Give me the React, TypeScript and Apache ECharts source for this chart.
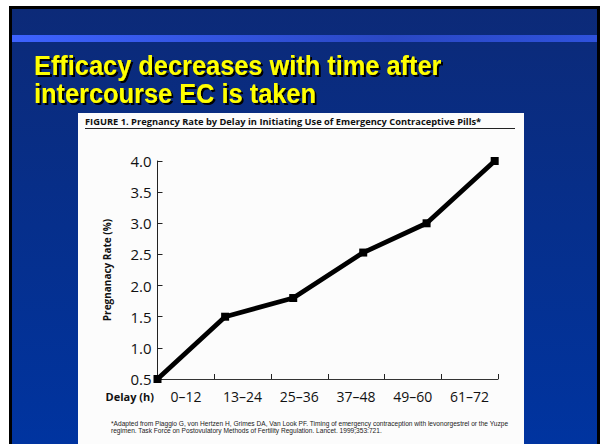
import React, { useEffect, useRef } from "react";
import * as echarts from "echarts";

const titleLines = ["Efficacy decreases with time after", "intercourse EC is taken"];
const figureCaption = "FIGURE 1. Pregnancy Rate by Delay in Initiating Use of Emergency Contraceptive Pills*";
const categories = ["0–12", "13–24", "25–36", "37–48", "49–60", "61–72"];
const delayHours = [0, 14.3, 28.7, 43.5, 56.9, 71.3];
const pregnancyRate = [0.5, 1.5, 1.8, 2.53, 3.0, 4.0];
const yAxisName = "Pregnanacy Rate (%)";
const xAxisName = "Delay (h)";
const footnoteLines = [
  "*Adapted from Piaggio G, von Hertzen H, Grimes DA, Van Look PF. Timing of emergency contraception with levonorgestrel or the Yuzpe",
  "regimen. Task Force on Postovulatory Methods of Fertility Regulation. Lancet. 1999;353:721.",
];

const chartFont = '"Open Sans", "Noto Sans", sans-serif';

export default function App() {
  const ref = useRef<HTMLDivElement>(null);
  useEffect(() => {
    if (!ref.current) return;
    const chart = echarts.init(ref.current, undefined, { renderer: "svg" });
    chart.setOption({
      animation: false,
      backgroundColor: "#ffffff",
      grid: { left: 157.5, right: 102, top: 161, bottom: 65, containLabel: false },
      xAxis: [
        {
          type: "category",
          data: categories,
          boundaryGap: true,
          axisLine: { show: true, lineStyle: { color: "#333", width: 1 } },
          axisTick: { show: true, inside: true, length: 5, lineStyle: { color: "#222" } },
          axisLabel: { fontSize: 14, color: "#111", margin: 10, fontFamily: chartFont },
          splitLine: { show: false },
        },
        { type: "value", min: 0, max: 72, show: false },
      ],
      yAxis: {
        type: "value",
        min: 0.5,
        max: 4,
        interval: 0.5,
        name: yAxisName,
        nameLocation: "middle",
        nameGap: 46,
        nameTextStyle: { fontSize: 10, fontWeight: "bold", color: "#111", fontFamily: chartFont },
        axisLine: { show: true, lineStyle: { color: "#222", width: 1 } },
        axisTick: { show: true, inside: true, length: 5, lineStyle: { color: "#222" } },
        axisLabel: {
          fontSize: 15,
          color: "#111",
          margin: 6,
          fontFamily: chartFont,
          formatter: (v: number) => v.toFixed(1),
        },
        splitLine: { show: false },
      },
      series: [
        {
          type: "line",
          xAxisIndex: 1,
          data: delayHours.map((h, i) => [h, pregnancyRate[i]]),
          symbol: "rect",
          symbolSize: 8,
          showAllSymbol: true,
          clip: false,
          lineStyle: { width: 4.8, color: "#000" },
          itemStyle: { color: "#000" },
          z: 5,
        },
      ],
      graphic: [
        { type: "rect", z: -30, shape: { x: 0, y: 0, width: 600, height: 444 }, style: { fill: "#ffffff" } },
        { type: "rect", z: -29, shape: { x: 9, y: 6, width: 591, height: 438 }, style: { fill: "#000000" } },
        {
          type: "rect",
          z: -28,
          shape: { x: 12, y: 9, width: 585, height: 435 },
          style: {
            fill: new echarts.graphic.LinearGradient(0, 0, 0, 1, [
              { offset: 0, color: "#0c2a78" },
              { offset: 1, color: "#0034a0" },
            ]),
          },
        },
        {
          type: "rect",
          z: -27,
          shape: { x: 12, y: 35, width: 585, height: 7 },
          style: {
            fill: new echarts.graphic.LinearGradient(0, 0, 1, 0, [
              { offset: 0, color: "#3d62ff" },
              { offset: 0.65, color: "#2a48c4" },
              { offset: 1, color: "#2f52dc" },
            ]),
          },
        },
        { type: "rect", z: -26, shape: { x: 78, y: 113, width: 446, height: 331 }, style: { fill: "#fcfcfc" } },
        ...titleLines.map((t, i) => ({
          type: "text",
          z: 10,
          x: 34,
          y: 66 + i * 27.5,
          scaleX: 0.94,
          style: {
            text: t,
            fill: "#ffff00",
            font: 'bold 27px "Liberation Sans", Arial, sans-serif',
            verticalAlign: "middle",
            textShadowColor: "#000000",
            textShadowOffsetX: 2,
            textShadowOffsetY: 2,
            textShadowBlur: 1,
          },
        })),
        {
          type: "text",
          z: 10,
          x: 85,
          y: 121,
          style: {
            text: figureCaption,
            fill: "#111",
            font: 'bold 9.3px "Open Sans", sans-serif',
            verticalAlign: "middle",
          },
        },
        {
          type: "line",
          z: 10,
          shape: { x1: 85, y1: 128.5, x2: 515, y2: 128.5 },
          style: { stroke: "#222", lineWidth: 1 },
        },
        {
          type: "text",
          z: 10,
          x: 154,
          y: 396,
          style: {
            text: xAxisName,
            fill: "#111",
            font: 'bold 11px "Open Sans", sans-serif',
            align: "right",
            verticalAlign: "middle",
          },
        },
        ...footnoteLines.map((t, i) => ({
          type: "text",
          z: 10,
          x: 111,
          y: 423 + i * 7.5,
          style: {
            text: t,
            fill: "#222",
            font: '6.6px "Liberation Sans", Arial, sans-serif',
            verticalAlign: "middle",
          },
        })),
      ],
    });
    return () => chart.dispose();
  }, []);
  return (
    <div
      ref={ref}
      style={{ position: "fixed", left: 0, top: 0, width: 600, height: 444 }}
    />
  );
}
